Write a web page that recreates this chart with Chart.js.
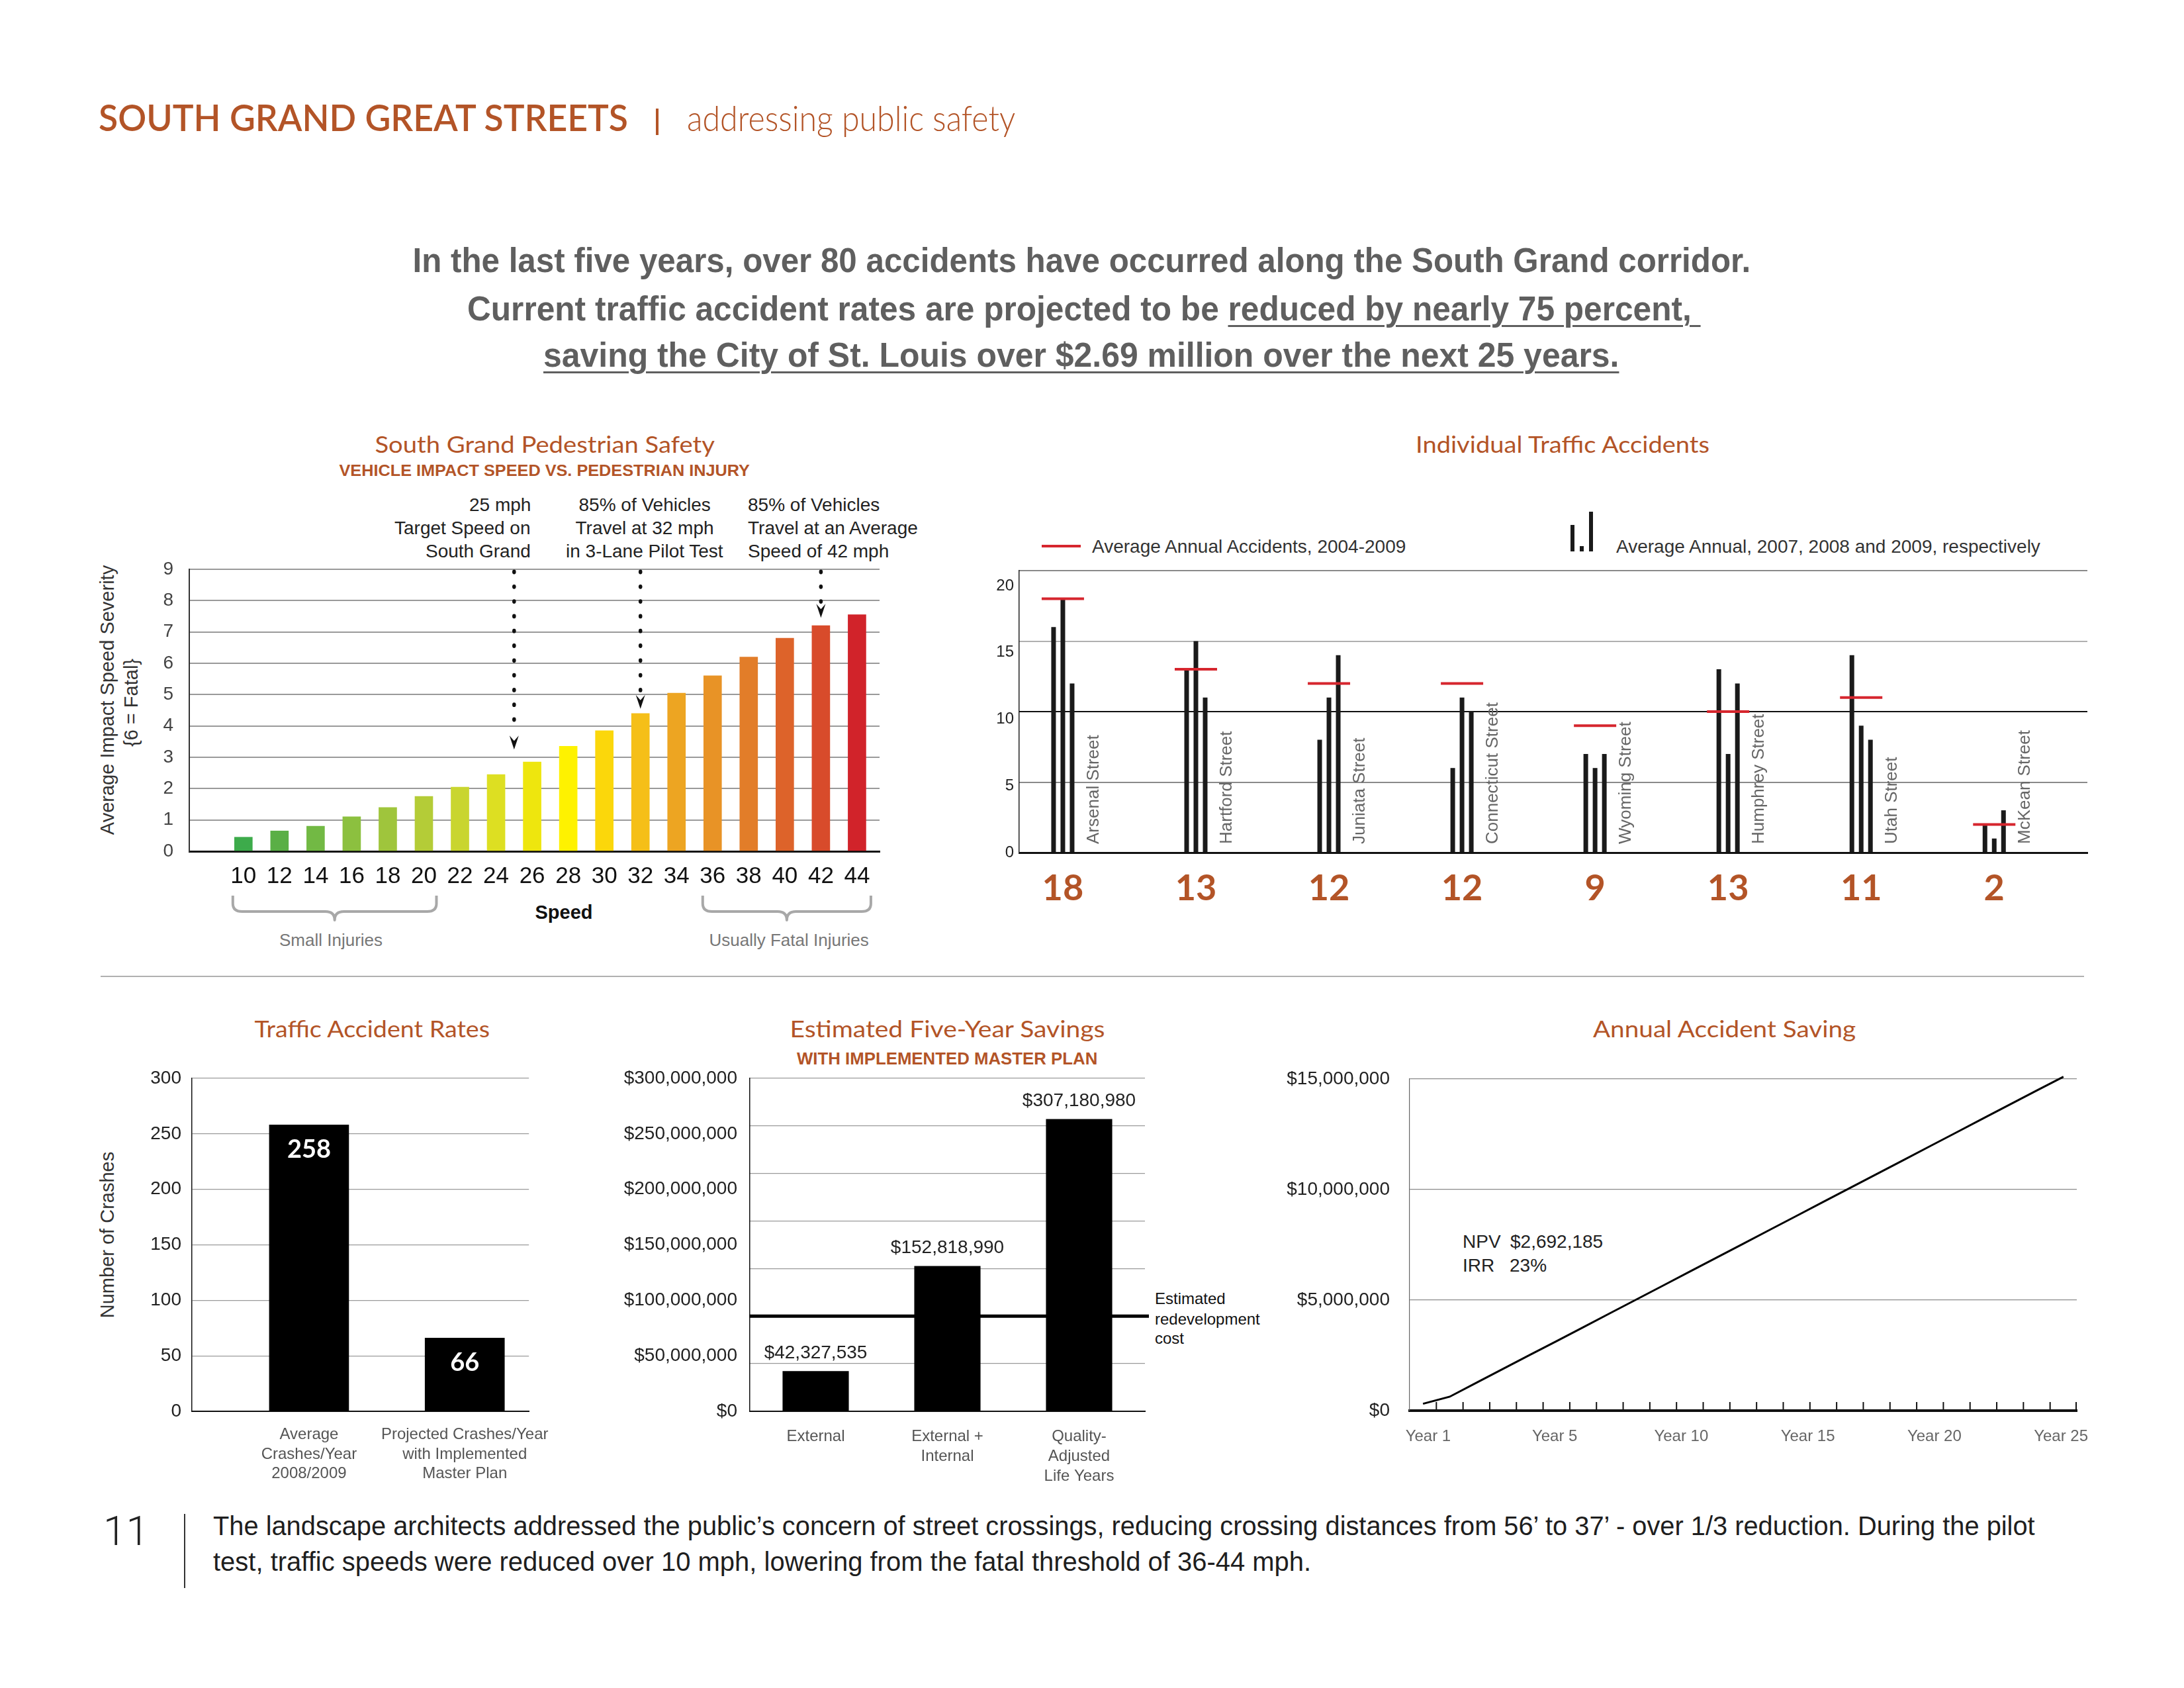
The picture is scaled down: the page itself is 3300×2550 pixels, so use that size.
<!DOCTYPE html>
<html><head><meta charset="utf-8">
<script src="https://cdn.jsdelivr.net/npm/chart.js@4"></script>
<style>
html,body{margin:0;padding:0;background:#fff;}
#page{position:relative;width:3300px;height:2550px;overflow:hidden;background:#fff;}
.t{position:absolute;white-space:pre;line-height:1;}
canvas{position:absolute;}
.u{text-decoration:underline;text-decoration-thickness:3px;text-underline-offset:7px;}
</style></head><body><div id="page"></div>
<script>
// ---------------- DATA ----------------
const speeds = [10,12,14,16,18,20,22,24,26,28,30,32,34,36,38,40,42,44];
const severity = [0.45,0.65,0.8,1.1,1.4,1.75,2.05,2.45,2.85,3.35,3.85,4.4,5.05,5.6,6.2,6.8,7.2,7.55];
const severityTicks = [0,1,2,3,4,5,6,7,8,9];
const barColors = ['#3dab4b','#5aaf46','#72b944','#8cc03f','#9fc53c','#b4cc37','#c9d52f','#dddf22','#eee60e','#fef200','#fbd70b','#f5bf18','#eda522','#e89326','#e27d29','#dd632a','#d84b2b','#d1232a'];
const arrowSpeeds = [25,32,42];
const arrowTips = [3.25,4.55,7.45];

const streets = ['Arsenal Street','Hartford Street','Juniata Street','Connecticut Street','Wyoming Street','Humphrey Street','Utah Street','McKean Street'];
const streetTotals = [18,13,12,12,9,13,11,2];
const acc2007 = [16,13,8,6,7,13,14,2];
const acc2008 = [18,15,11,11,6,7,9,1];
const acc2009 = [12,11,14,10,7,12,8,3];
const avgAnnual = [18,13,12,12,9,10,11,2];
const accGridTicks = [0,5,10,15,20];
const accLabelTicks = [0,5,10,15,20];

const rateCats = [['Average','Crashes/Year','2008/2009'],['Projected Crashes/Year','with Implemented','Master Plan']];
const rateVals = [258,66];
const rateTicks = [0,50,100,150,200,250,300];

const savCats = ['External',['External +','Internal'],['Quality-','Adjusted','Life Years']];
const savVals = [42327535,152818990,307180980];
const savGridTicks = [0,50e6,100e6,150e6,200e6,250e6,300e6,350e6];
const savLabelTicks = [0,50e6,100e6,150e6,200e6,250e6,300e6];
const redevCost = 100e6;

const years = ['Year 1','Year 2','Year 3','Year 4','Year 5','Year 6','Year 7','Year 8','Year 9','Year 10','Year 11','Year 12','Year 13','Year 14','Year 15','Year 16','Year 17','Year 18','Year 19','Year 20','Year 21','Year 22','Year 23','Year 24','Year 25'];
const annualSavings = [310000,630000,1260000,1890000,2520000,3140000,3770000,4400000,5030000,5660000,6290000,6920000,7550000,8180000,8810000,9440000,10070000,10700000,11330000,11960000,12590000,13220000,13850000,14480000,15100000];
const yearLabels = ['Year 1','Year 5','Year 10','Year 15','Year 20','Year 25'];
const annualTicks = [0,5e6,10e6,15e6];

// ---------------- HELPERS ----------------
const page = document.getElementById('page');
const LIB = "'Liberation Sans', Arial, sans-serif";
const LATO = "Lato, 'Liberation Sans', sans-serif";
const ORANGE = '#b35427';
function T(text, o) {
  const el = document.createElement('div');
  el.className = 't';
  if (o.html) el.innerHTML = text; else el.textContent = text;
  el.style.fontFamily = o.f === 'lato' ? LATO : (o.f === 'rob' ? "Roboto, " + LIB : LIB);
  el.style.fontSize = o.s + 'px';
  el.style.fontWeight = o.w || 400;
  el.style.color = o.c || '#222';
  page.appendChild(el);
  const capOff = (o.f === 'lato' ? 0.5285 : 0.4885) * o.s;
  el.style.top = (o.y - capOff) + 'px';
  const w = el.offsetWidth;
  const a = o.a || 'left';
  const left = a === 'left' ? o.x : (a === 'center' ? o.x - w / 2 : o.x - w);
  el.style.left = left + 'px';
  el.style.transformOrigin = a + ' center';
  if (o.tw) el.style.transform = 'scaleX(' + (o.tw / w) + ')';
  return el;
}
function R(text, cx, cy, s, c) {
  const el = document.createElement('div');
  el.className = 't';
  el.textContent = text;
  el.style.fontFamily = LIB; el.style.fontSize = s + 'px'; el.style.color = c;
  page.appendChild(el);
  const w = el.offsetWidth, h = el.offsetHeight;
  el.style.left = (cx - w / 2) + 'px';
  el.style.top = (cy - h / 2) + 'px';
  el.style.transform = 'rotate(-90deg)';
  el.style.transformOrigin = 'center center';
}
function D(x, y, w, h, c) {
  const el = document.createElement('div');
  el.style.cssText = `position:absolute;left:${x}px;top:${y}px;width:${w}px;height:${h}px;background:${c};`;
  page.appendChild(el);
}
function mk(L, Tp, W, H) {
  const c = document.createElement('canvas');
  c.width = W; c.height = H;
  c.style.left = L + 'px'; c.style.top = Tp + 'px';
  c.style.width = W + 'px'; c.style.height = H + 'px';
  page.appendChild(c);
  return c;
}
const setTicks = arr => a => { a.ticks = arr.map(v => ({value: v})); };

// ---------------- PAGE TEXT ----------------
function buildText() {
  T('SOUTH GRAND GREAT STREETS', {x:149, y:179, s:56, f:'lato', w:600, c:ORANGE, tw:800});
  D(991, 164, 4, 40, ORANGE);
  T('addressing public safety', {x:1038, y:180, s:54, f:'lato', w:300, c:ORANGE, tw:496});

  const sg = '#5f5f5f';
  T('In the last five years, over 80 accidents have occurred along the South Grand corridor.', {x:1634, y:392, s:52, w:700, c:sg, a:'center', tw:2022});
  T('Current traffic accident rates are projected to be <span class="u">reduced by nearly 75 percent, </span>', {html:true, x:1638, y:465, s:52, w:700, c:sg, a:'center', tw:1864});
  T('<span class="u">saving the City of St. Louis over $2.69 million over the next 25 years.</span>', {html:true, x:1633, y:535, s:52, w:700, c:sg, a:'center', tw:1625});

  // pedestrian chart
  T('South Grand Pedestrian Safety', {x:823, y:671, s:35, f:'lato', c:ORANGE, a:'center', tw:513});
  T('VEHICLE IMPACT SPEED VS. PEDESTRIAN INJURY', {x:822, y:711, s:24, w:700, c:ORANGE, a:'center', tw:620});
  const ay = [763, 798, 833];
  ['25 mph','Target Speed on','South Grand'].forEach((s,i)=>T(s,{x:802, y:ay[i], s:28, c:'#222', a:'right'}));
  ['85% of Vehicles','Travel at 32 mph','in 3-Lane Pilot Test'].forEach((s,i)=>T(s,{x:974, y:ay[i], s:28, c:'#222', a:'center'}));
  ['85% of Vehicles','Travel at an Average','Speed of 42 mph'].forEach((s,i)=>T(s,{x:1130, y:ay[i], s:28, c:'#222'}));
  R('Average Impact Speed Severity', 162, 1057, 29, '#333');
  R('{6 = Fatal}', 198, 1061, 29, '#333');
  T('Speed', {x:852, y:1378, s:29, w:700, c:'#111', a:'center'});
  T('Small Injuries', {x:500, y:1420, s:26, c:'#777', a:'center'});
  T('Usually Fatal Injuries', {x:1192, y:1420, s:26, c:'#777', a:'center'});

  // individual accidents
  T('Individual Traffic Accidents', {x:2361, y:671, s:35, f:'lato', c:ORANGE, a:'center', tw:444});
  D(1574, 823, 59, 4, '#d6262e');
  T('Average Annual Accidents, 2004-2009', {x:1650, y:826, s:28, c:'#333'});
  D(2373, 793, 6, 40, '#1a1a1a');
  D(2387, 825, 6, 8, '#1a1a1a');
  D(2401, 773, 6, 60, '#1a1a1a');
  T('Average Annual, 2007, 2008 and 2009, respectively', {x:2442, y:826, s:28, c:'#333'});

  // separator
  D(152, 1474, 2997, 2, '#b0b0b0');

  // bottom charts
  T('Traffic Accident Rates', {x:562, y:1554, s:35, f:'lato', c:ORANGE, a:'center', tw:356});
  R('Number of Crashes', 162, 1865, 29, '#333');
  T('Estimated Five-Year Savings', {x:1431, y:1554, s:35, f:'lato', c:ORANGE, a:'center', tw:476});
  T('WITH IMPLEMENTED MASTER PLAN', {x:1431, y:1599, s:25, w:700, c:ORANGE, a:'center', tw:454});
  ['Estimated','redevelopment','cost'].forEach((s,i)=>T(s,{x:1745, y:[1962,1993,2022][i], s:24, c:'#111'}));
  T('Annual Accident Saving', {x:2605, y:1554, s:35, f:'lato', c:ORANGE, a:'center', tw:397});
  T('NPV', {x:2210, y:1876, s:28, c:'#222'});
  T('$2,692,185', {x:2282, y:1876, s:28, c:'#222'});
  T('IRR', {x:2210, y:1912, s:28, c:'#222'});
  T('23%', {x:2281, y:1912, s:28, c:'#222'});

  // footer
  T('11', {x:156, y:2312, s:62, f:'rob', w:300, c:'#222'});
  D(278, 2287, 2, 112, '#333');
  T('The landscape architects addressed the public\u2019s concern of street crossings, reducing crossing distances from 56\u2019 to 37\u2019 - over 1/3 reduction. During the pilot', {x:322, y:2305, s:40, c:'#1e1e1e', tw:2753});
  T('test, traffic speeds were reduced over 10 mph, lowering from the fatal threshold of 36-44 mph.', {x:322, y:2359, s:40, c:'#1e1e1e', tw:1659});
}

// ---------------- CHARTS ----------------
function buildCharts() {
  Chart.defaults.font.family = LIB;
  Chart.defaults.color = '#222';
  Chart.defaults.animation = false;
  Chart.defaults.plugins.legend.display = false;
  Chart.defaults.plugins.tooltip.enabled = false;

  // ---- Chart 1: pedestrian safety ----
  const pedPlugin = {
    id: 'ped',
    afterDatasetsDraw(chart) {
      const {ctx, chartArea} = chart;
      const xs = chart.scales.x, ys = chart.scales.y;
      ctx.save();
      ctx.fillStyle = '#111';
      arrowSpeeds.forEach((sp, i) => {
        const x = xs.getPixelForValue(sp);
        const tip = ys.getPixelForValue(arrowTips[i]);
        for (let y = ys.getPixelForValue(9) + 4; y < tip - 24; y += 22.3) {
          ctx.beginPath(); ctx.ellipse(x, y, 2.8, 3.4, 0, 0, Math.PI * 2); ctx.fill();
        }
        ctx.beginPath();
        ctx.moveTo(x, tip); ctx.lineTo(x - 7, tip - 21); ctx.lineTo(x, tip - 13); ctx.lineTo(x + 7, tip - 21);
        ctx.closePath(); ctx.fill();
      });
      // braces
      ctx.strokeStyle = '#a8a8a8'; ctx.lineWidth = 4; ctx.lineJoin = 'round';
      const b = chartArea.bottom;
      const brace = (x0, x1) => {
        const m = (x0 + x1) / 2, y0 = b + 67, ym = b + 91, yp = b + 104;
        ctx.beginPath();
        ctx.moveTo(x0, y0); ctx.lineTo(x0, ym - 12);
        ctx.quadraticCurveTo(x0, ym, x0 + 14, ym);
        ctx.lineTo(m - 14, ym);
        ctx.quadraticCurveTo(m, ym, m, yp);
        ctx.quadraticCurveTo(m, ym, m + 14, ym);
        ctx.lineTo(x1 - 14, ym);
        ctx.quadraticCurveTo(x1, ym, x1, ym - 12);
        ctx.lineTo(x1, y0);
        ctx.stroke();
      };
      brace(xs.getPixelForValue(10) - 16, xs.getPixelForValue(20) + 19);
      brace(xs.getPixelForValue(36) - 15, xs.getPixelForValue(44) + 21);
      ctx.restore();
    }
  };
  new Chart(mk(120, 800, 1260, 650), {
    type: 'bar',
    data: {datasets: [{data: speeds.map((s, i) => ({x: s, y: severity[i]})), backgroundColor: barColors, barThickness: 27}]},
    options: {
      responsive: false, devicePixelRatio: 1,
      layout: {padding: {top: 60, right: 51, left: 0, bottom: 0}},
      scales: {
        x: {type: 'linear', offset: false, min: 7, max: 45.25, afterBuildTicks: setTicks(speeds), afterFit: s => { s.height = 164; },
            grid: {display: false, drawTicks: false, offset: false}, border: {color: '#111', width: 3},
            ticks: {autoSkip: false, maxRotation: 0, padding: 17, color: '#111', font: {size: 35}}},
        y: {min: 0, max: 9, afterBuildTicks: setTicks(severityTicks), afterFit: s => { s.width = 166; },
            grid: {color: '#9a9a9a', lineWidth: 2, drawTicks: false}, border: {color: '#333', width: 2},
            ticks: {padding: 24, color: '#444', font: {size: 28}}}
      }
    },
    plugins: [pedPlugin]
  });

  // ---- Chart 2: individual traffic accidents ----
  const idx = streets.map((s, i) => i);
  const streetPlugin = {
    id: 'streets',
    afterDatasetsDraw(chart) {
      const {ctx, chartArea} = chart;
      const xs = chart.scales.x;
      ctx.save();
      ctx.fillStyle = '#666';
      ctx.font = '26px ' + LIB;
      ctx.textAlign = 'left'; ctx.textBaseline = 'middle';
      streets.forEach((s, i) => {
        ctx.save();
        ctx.translate(xs.getPixelForValue(i) + 47, chartArea.bottom - 13);
        ctx.rotate(-Math.PI / 2);
        ctx.fillText(s, 0, 0);
        ctx.restore();
      });
      ctx.restore();
    }
  };
  const barDs = (arr) => ({type: 'bar', data: idx.map(i => ({x: i, y: arr[i]})), backgroundColor: '#1a1a1a',
    categoryPercentage: 0.209, barPercentage: 0.5, xAxisID: 'x', yAxisID: 'y', order: 2});
  new Chart(mk(1440, 800, 1760, 600), {
    type: 'bar',
    data: {datasets: [
      barDs(acc2007), barDs(acc2008), barDs(acc2009),
      {type: 'line', data: idx.map(i => ({x: i, y: avgAnnual[i]})), showLine: false, pointStyle: 'line',
       pointRadius: 32, pointHoverRadius: 32, pointBorderColor: '#d6262e', pointBorderWidth: 4,
       borderColor: '#d6262e', xAxisID: 'x', yAxisID: 'y', order: 0}
    ]},
    options: {
      responsive: false, devicePixelRatio: 1,
      layout: {padding: {top: 62, right: 46, left: 0, bottom: 0}},
      scales: {
        x: {type: 'linear', offset: false, min: -0.328, max: 7.70, afterBuildTicks: setTicks(idx), afterFit: s => { s.height = 112; },
            grid: {display: false, drawTicks: false, offset: false}, border: {color: '#111', width: 3},
            ticks: {autoSkip: false, maxRotation: 0, padding: 22, color: ORANGE,
                    font: {size: 54, weight: 'bold', family: LATO}, callback: v => streetTotals[v]}},
        y: {type: 'linear', position: 'right', min: 0, max: 20, afterBuildTicks: setTicks(accGridTicks), afterFit: s => { s.width = 0; },
            grid: {drawTicks: false, lineWidth: 2, color: c => c.tick && c.tick.value === 10 ? '#111' : (c.tick && c.tick.value === 15 ? '#b0b0b0' : '#8a8a8a')},
            border: {display: false}, ticks: {display: false}},
        yl: {type: 'linear', position: 'left', min: 0, max: 21.14, afterBuildTicks: setTicks(accLabelTicks), afterFit: s => { s.width = 100; },
            grid: {display: false, drawTicks: false}, border: {color: '#222', width: 1.5},
            ticks: {padding: 8, color: '#222', font: {size: 24}}}
      }
    },
    plugins: [streetPlugin]
  });

  // ---- Chart 3: traffic accident rates ----
  const rateIdx = rateVals.map((v, i) => i);
  const rateLabelPlugin = {
    id: 'rateLabels',
    afterDatasetsDraw(chart) {
      const {ctx} = chart;
      ctx.save();
      ctx.fillStyle = '#fff'; ctx.font = 'bold 38px ' + LATO;
      ctx.textAlign = 'center'; ctx.textBaseline = 'middle';
      chart.getDatasetMeta(0).data.forEach((bar, i) => ctx.fillText(String(rateVals[i]), bar.x, bar.y + 37));
      ctx.restore();
    }
  };
  new Chart(mk(110, 1570, 750, 690), {
    type: 'bar',
    data: {datasets: [{data: rateIdx.map(i => ({x: i, y: rateVals[i]})), backgroundColor: '#000', barThickness: 120}]},
    options: {
      responsive: false, devicePixelRatio: 1,
      layout: {padding: {top: 59, right: 55, left: 0, bottom: 0}},
      scales: {
        x: {type: 'linear', offset: false, min: -0.752, max: 1.412, afterBuildTicks: setTicks(rateIdx), afterFit: s => { s.height = 128; },
            grid: {display: false, drawTicks: false, offset: false}, border: {color: '#111', width: 2},
            ticks: {autoSkip: false, maxRotation: 0, padding: 21, color: '#555', font: {size: 24, lineHeight: 1.22}, callback: v => rateCats[v]}},
        y: {min: 0, max: 300, afterBuildTicks: setTicks(rateTicks), afterFit: s => { s.width = 180; },
            grid: {color: '#9a9a9a', lineWidth: 1.3, drawTicks: false}, border: {color: '#111', width: 1.5},
            ticks: {padding: 16, color: '#222', font: {size: 28}}}
      }
    },
    plugins: [rateLabelPlugin]
  });

  // ---- Chart 4: estimated five-year savings ----
  const money = v => '$' + Number(v).toLocaleString('en-US');
  const savPlugin = {
    id: 'sav',
    afterDatasetsDraw(chart) {
      const {ctx, chartArea} = chart;
      ctx.save();
      const y = chart.scales.y.getPixelForValue(redevCost);
      ctx.strokeStyle = '#000'; ctx.lineWidth = 5;
      ctx.beginPath(); ctx.moveTo(chartArea.left, y); ctx.lineTo(chartArea.right + 6, y); ctx.stroke();
      ctx.fillStyle = '#222'; ctx.font = '28px ' + LIB;
      ctx.textAlign = 'center'; ctx.textBaseline = 'middle';
      chart.getDatasetMeta(0).data.forEach((bar, i) => ctx.fillText(money(savVals[i]), bar.x, bar.y - 27));
      ctx.restore();
    }
  };
  new Chart(mk(900, 1570, 880, 690), {
    type: 'bar',
    data: {labels: savCats, datasets: [{data: savVals, backgroundColor: '#000', categoryPercentage: 1, barPercentage: 0.503, yAxisID: 'y'}]},
    options: {
      responsive: false, devicePixelRatio: 1,
      layout: {padding: {top: 59, right: 50, left: 0, bottom: 0}},
      scales: {
        x: {offset: true, afterFit: s => { s.height = 128; },
            grid: {display: false, drawTicks: false}, border: {color: '#111', width: 2},
            ticks: {autoSkip: false, maxRotation: 0, padding: 23, color: '#555', font: {size: 24, lineHeight: 1.25}}},
        y: {type: 'linear', position: 'right', min: 0, max: 350e6, afterBuildTicks: setTicks(savGridTicks), afterFit: s => { s.width = 0; },
            grid: {color: '#9a9a9a', lineWidth: 1.3, drawTicks: false}, border: {display: false}, ticks: {display: false}},
        yl: {type: 'linear', position: 'left', min: 0, max: 300e6, afterBuildTicks: setTicks(savLabelTicks), afterFit: s => { s.width = 233; },
            grid: {display: false, drawTicks: false}, border: {color: '#111', width: 1.5},
            ticks: {padding: 19, color: '#222', font: {size: 28}, callback: v => money(v)}}
      }
    },
    plugins: [savPlugin]
  });

  // ---- Chart 5: annual accident saving ----
  const tickPlugin = {
    id: 'yearTicks',
    afterDraw(chart) {
      const {ctx, chartArea} = chart;
      const xs = chart.scales.x;
      ctx.save();
      ctx.strokeStyle = '#111'; ctx.lineWidth = 2;
      for (let i = 0; i < years.length; i++) {
        const xb = i < years.length - 1 ? (xs.getPixelForValue(i) + xs.getPixelForValue(i + 1)) / 2 : chartArea.right - 1;
        ctx.beginPath(); ctx.moveTo(xb, chartArea.bottom); ctx.lineTo(xb, chartArea.bottom - 13); ctx.stroke();
      }
      ctx.restore();
    }
  };
  const yrIdx = yearLabels.map((v, i) => i);
  new Chart(mk(1920, 1570, 1270, 690), {
    type: 'line',
    data: {labels: years, datasets: [{data: annualSavings, borderColor: '#000', borderWidth: 3, pointRadius: 0, pointHoverRadius: 0, tension: 0, fill: false, clip: false, xAxisID: 'x', yAxisID: 'y'}]},
    options: {
      responsive: false, devicePixelRatio: 1,
      layout: {padding: {top: 60, right: 52, left: 0, bottom: 0}},
      scales: {
        x: {offset: true, weight: 0, afterFit: s => { s.height = 0; },
            grid: {display: false, drawTicks: false}, border: {color: '#111', width: 4}, ticks: {display: false}},
        x2: {type: 'linear', axis: 'x', position: 'bottom', weight: 1, min: -0.146, max: 5.125,
             afterBuildTicks: setTicks(yrIdx), afterFit: s => { s.height = 129; },
             grid: {display: false, drawTicks: false}, border: {display: false},
             ticks: {autoSkip: false, maxRotation: 0, padding: 25, color: '#666', font: {size: 24}, callback: v => yearLabels[v]}},
        y: {min: 0, max: 15e6, afterBuildTicks: setTicks(annualTicks), afterFit: s => { s.width = 210; },
            grid: {color: '#8a8a8a', lineWidth: 1.3, drawTicks: false}, border: {color: '#666', width: 1.2},
            ticks: {padding: 30, color: '#222', font: {size: 28}, callback: v => '$' + Number(v).toLocaleString('en-US')}}
      }
    },
    plugins: [tickPlugin]
  });
}

buildText();
buildCharts();
</script></body></html>
